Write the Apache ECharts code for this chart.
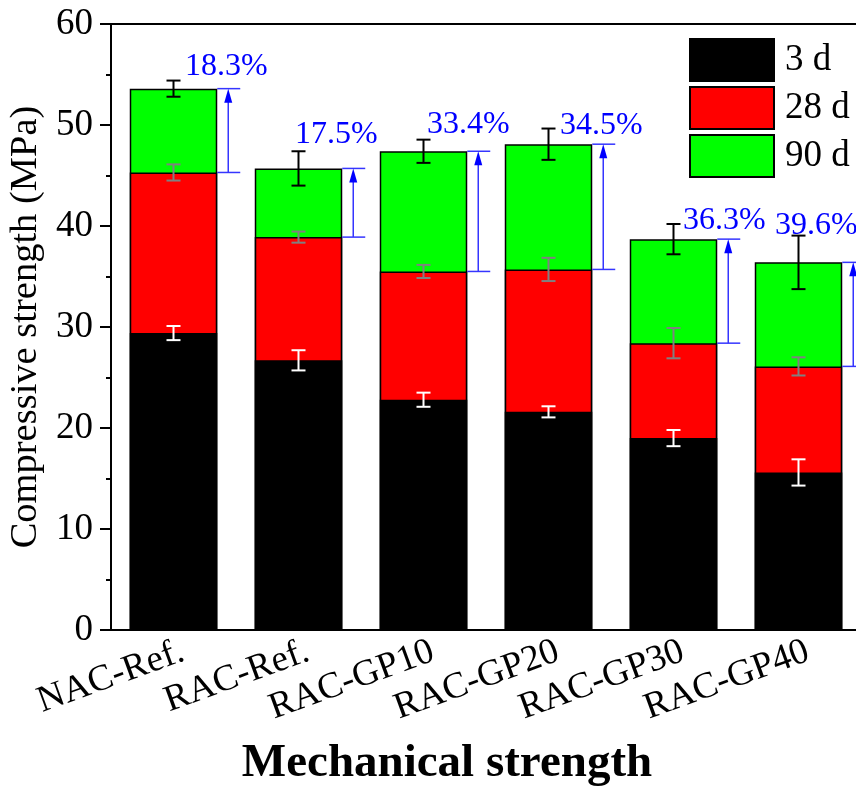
<!DOCTYPE html>
<html>
<head>
<meta charset="utf-8">
<script src="https://cdn.jsdelivr.net/npm/echarts/dist/echarts.min.js"></script>
<style>
  html, body { margin: 0; padding: 0; background: #fff; }
  #chart { width: 856px; height: 788px; }
</style>
</head>
<body>
<div id="chart"></div>
<script>
// Mix designs
const categories = ['NAC-Ref.', 'RAC-Ref.', 'RAC-GP10', 'RAC-GP20', 'RAC-GP30', 'RAC-GP40'];

// Mean compressive strength (MPa) at each curing age
const strength3d  = [29.4, 26.7, 22.8, 21.6, 19.0, 15.6];
const strength28d = [45.3, 38.9, 35.5, 35.7, 28.4, 26.1];
const strength90d = [53.6, 45.7, 47.4, 48.1, 38.7, 36.4];

// Standard deviations (MPa)
const sd3d  = [0.7, 1.0, 0.7, 0.55, 0.8, 1.3];
const sd28d = [0.8, 0.55, 0.65, 1.15, 1.5, 0.9];
const sd90d = [0.8, 1.7, 1.15, 1.55, 1.5, 2.65];

// Strength gain from 28 d to 90 d (%)
const gainPct = [18.3, 17.5, 33.4, 34.5, 36.3, 39.6];

// Y-axis ticks
const yMin = 0, yMax = 60, yStep = 10;

// Pixel offsets of the gain labels relative to the bar's right edge / 90 d top
const gainLabelOffset = [[9, -22], [-6, -34], [1, -27], [9, -19], [7, -19], [-26, -37]];

const FONT = '"Liberation Serif", "Times New Roman", serif';
const BAR_FRAC = 0.7;

function errorBars(color) {
  return function (params, api) {
    const i = api.value(0), v = api.value(1), e = api.value(2);
    const top = api.coord([i, v + e]);
    const bot = api.coord([i, v - e]);
    const half = 7;
    const style = { stroke: color, lineWidth: 2 };
    return {
      type: 'group',
      children: [
        { type: 'line', shape: { x1: top[0], y1: top[1], x2: bot[0], y2: bot[1] }, style },
        { type: 'line', shape: { x1: top[0] - half, y1: top[1], x2: top[0] + half, y2: top[1] }, style },
        { type: 'line', shape: { x1: bot[0] - half, y1: bot[1], x2: bot[0] + half, y2: bot[1] }, style }
      ]
    };
  };
}

function gainMarker(params, api) {
  const i = api.value(0);
  const p28 = api.coord([i, api.value(1)]);
  const p90 = api.coord([i, api.value(2)]);
  const xr = p28[0] + api.size([1, 0])[0] * BAR_FRAC / 2;
  const ax = xr + 11;
  const blue = '#3535ff';
  const line = { stroke: blue, lineWidth: 1.5 };
  const off = gainLabelOffset[params.dataIndex];
  return {
    type: 'group',
    children: [
      { type: 'line', shape: { x1: xr, y1: p90[1], x2: xr + 23, y2: p90[1] }, style: line },
      { type: 'line', shape: { x1: xr, y1: p28[1], x2: xr + 23, y2: p28[1] }, style: line },
      { type: 'line', shape: { x1: ax, y1: p28[1], x2: ax, y2: p90[1] + 12 }, style: line },
      { type: 'polygon', shape: { points: [[ax, p90[1]], [ax - 4, p90[1] + 14], [ax + 4, p90[1] + 14]] },
        style: { fill: '#0000ff' } },
      { type: 'text', x: xr + off[0], y: p90[1] + off[1],
        style: { text: gainPct[params.dataIndex].toFixed(1) + '%', fill: '#0000ff',
                 fontSize: 32, fontFamily: FONT, align: 'center', verticalAlign: 'middle' } }
    ]
  };
}

const chart = echarts.init(document.getElementById('chart'), null, { renderer: 'canvas' });

const barStyle = (color) => ({ color: color, borderColor: '#000', borderWidth: 1.5 });

chart.setOption({
  backgroundColor: '#fff',
  animation: false,
  grid: { left: 111, top: 24, width: 750, height: 606, outerBoundsMode: 'none', containLabel: false },
  legend: {
    data: ['3 d', '28 d', '90 d'],
    orient: 'vertical',
    left: 689, top: 38,
    padding: 0,
    itemWidth: 84, itemHeight: 42, itemGap: 4,
    selectedMode: false,
    icon: 'rect',
    textStyle: { fontSize: 37, fontFamily: FONT, color: '#000', padding: [0, 0, 0, 6] }
  },
  xAxis: [
    {
      type: 'category',
      data: categories,
      axisLine: { lineStyle: { color: '#000', width: 2 } },
      axisTick: { show: false },
      axisLabel: { rotate: 20, interval: 0, fontSize: 37, fontFamily: FONT, color: '#000',
                   margin: 24, padding: [0, -10, 0, 0] },
      name: 'Mechanical strength',
      nameLocation: 'middle',
      nameGap: 110,
      nameTextStyle: { fontSize: 47, fontWeight: 'bold', fontFamily: FONT, color: '#000',
                       padding: [0, 78, 0, 0] }
    },
    {
      type: 'category',
      data: categories,
      position: 'top',
      axisLine: { lineStyle: { color: '#000', width: 2 } },
      axisTick: { show: false },
      axisLabel: { show: false }
    }
  ],
  yAxis: {
    type: 'value',
    min: yMin, max: yMax, interval: yStep,
    axisLine: { show: true, lineStyle: { color: '#000', width: 2 } },
    axisTick: { show: true, length: 11, lineStyle: { color: '#000', width: 2 } },
    minorTick: { show: true, splitNumber: 2, length: 5, lineStyle: { color: '#000', width: 2 } },
    splitLine: { show: false },
    axisLabel: { fontSize: 37, fontFamily: FONT, color: '#000', margin: 18 },
    name: 'Compressive strength (MPa)',
    nameLocation: 'middle',
    nameGap: 64,
    nameTextStyle: { fontSize: 38.5, fontFamily: FONT, color: '#000' }
  },
  series: [
    { name: '90 d', type: 'bar', data: strength90d, barWidth: (BAR_FRAC * 100) + '%', barGap: '-100%',
      itemStyle: barStyle('#00ff00') },
    { name: '28 d', type: 'bar', data: strength28d, barWidth: (BAR_FRAC * 100) + '%', barGap: '-100%',
      itemStyle: barStyle('#ff0000') },
    { name: '3 d', type: 'bar', data: strength3d, barWidth: (BAR_FRAC * 100) + '%', barGap: '-100%',
      itemStyle: barStyle('#000000') },
    { type: 'custom', z: 5, renderItem: errorBars('#ffffff'), encode: { x: 0, y: 1 },
      data: categories.map((c, i) => [i, strength3d[i], sd3d[i]]) },
    { type: 'custom', z: 5, renderItem: errorBars('#808080'), encode: { x: 0, y: 1 },
      data: categories.map((c, i) => [i, strength28d[i], sd28d[i]]) },
    { type: 'custom', z: 5, renderItem: errorBars('#000000'), encode: { x: 0, y: 1 },
      data: categories.map((c, i) => [i, strength90d[i], sd90d[i]]) },
    { type: 'custom', z: 6, renderItem: gainMarker, encode: { x: 0, y: [1, 2] },
      data: categories.map((c, i) => [i, strength28d[i], strength90d[i]]) }
  ]
});
</script>
</body>
</html>
